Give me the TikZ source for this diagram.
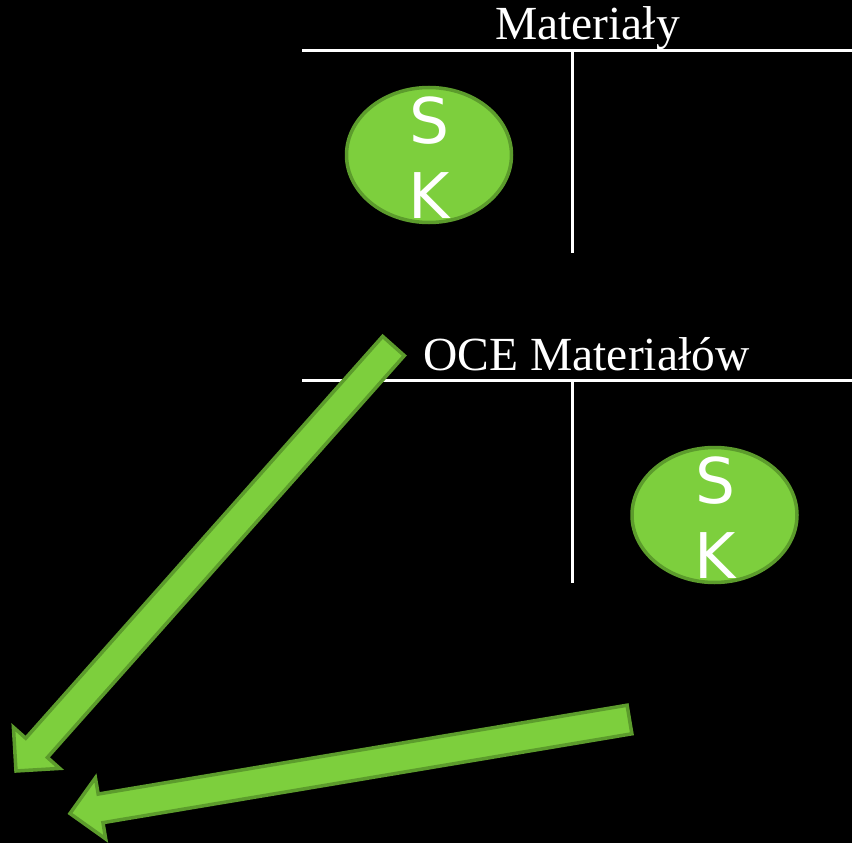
\documentclass[tikz,border=0pt]{standalone}
\usepackage{fontspec}
\setmainfont{Liberation Serif}
\newfontfamily\letterfont{DejaVu Sans}
\usetikzlibrary{calc,shapes.geometric}

\definecolor{leaf}{RGB}{125,207,61}
\definecolor{leafedge}{RGB}{92,156,44}

% block arrow: #1 tail coordinate, #2 tip coordinate, #3 prefix for helper names
\newcommand{\fatarrow}[3]{%
  \coordinate (#3base) at ($(#2)!31pt!(#1)$);
  \filldraw[blockarrow]
    ($(#1)!14.5pt!90:(#2)$) -- ($(#3base)!14.5pt!90:(#2)$) --
    ($(#3base)!31pt!90:(#2)$) -- (#2) --
    ($(#3base)!31pt!-90:(#2)$) -- ($(#3base)!14.5pt!-90:(#2)$) --
    ($(#1)!14.5pt!-90:(#2)$) -- cycle;}

\begin{document}
\begin{tikzpicture}[x=1pt,y=-1pt,
  rule/.style={draw=white,line width=2.2pt},
  title/.style={text=white,anchor=base,inner sep=0pt,font=\fontsize{47.5}{57}\selectfont},
  account/.style={ellipse,draw=leafedge,fill=leaf,line width=3.5pt,
    minimum width=165pt,minimum height=135pt,inner sep=0pt},
  letters/.style={text=white,align=center,anchor=base,inner sep=0pt,
    font=\letterfont\fontsize{63}{75}\selectfont},
  blockarrow/.style={fill=leaf,draw=leafedge,line width=3.5pt,line join=miter}]

  % background and page frame
  \fill[black] (0,0) rectangle (852,843);
  \useasboundingbox (0,0) rectangle (852,843);

  % upper T-account
  \coordinate (t1l) at (302,50.5);
  \coordinate (t1r) at (852,50.5);
  \coordinate (t1top) at (572.5,50.5);
  \coordinate (t1bot) at (572.5,252.5);
  \draw[rule] (t1l) -- (t1r);
  \draw[rule] (t1top) -- (t1bot);
  \node[title] (mat) at (587.5,39.5) {Materiały};

  % lower T-account
  \coordinate (t2l) at (302,380.5);
  \coordinate (t2r) at (852,380.5);
  \coordinate (t2top) at (572.5,380.5);
  \coordinate (t2bot) at (572.5,582.5);
  \draw[rule] (t2l) -- (t2r);
  \draw[rule] (t2top) -- (t2bot);
  \node[title] (oce) at (586.5,370.5) {OCE Materiałów};

  % opening balances (base anchor sits on the last line, K)
  \node[account] (sk1) at (429,155) {};
  \node[letters] (sk1t) at (429.5,218) {S\\K};
  \node[account] (sk2) at (714.5,515) {};
  \node[letters] (sk2t) at (715,578) {S\\K};

  % block arrows
  \coordinate (a1tail) at (393.5,346);
  \coordinate (a1tip) at (16,771);
  \fatarrow{a1tail}{a1tip}{a1}
  \coordinate (a2tail) at (629.5,719.5);
  \coordinate (a2tip) at (70,813.5);
  \fatarrow{a2tail}{a2tip}{a2}
\end{tikzpicture}
\end{document}
